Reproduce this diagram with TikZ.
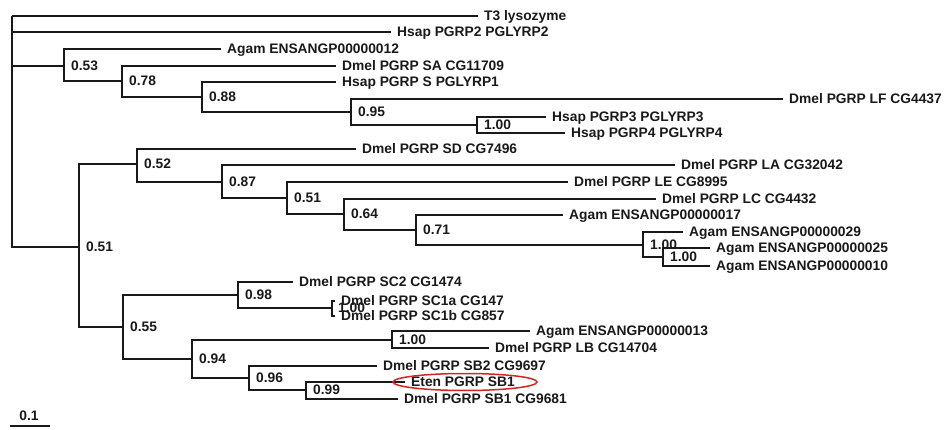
\documentclass[tikz,border=0pt]{standalone}
\usepackage{fontspec}
\setmainfont{Liberation Sans}
\usetikzlibrary{shapes.geometric}
\definecolor{hl}{RGB}{215,35,35}
\definecolor{ink}{RGB}{25,25,25}
\begin{document}
\begin{tikzpicture}[x=1pt,y=-1pt,
  br/.style={draw=ink,line width=1.8pt},
  leaf/.style={anchor=west,inner xsep=6pt,inner ysep=0pt,text height=9.9pt,text depth=0pt,
    font=\fontsize{13.8}{16}\selectfont\bfseries,text=ink},
  bs/.style={anchor=west,inner xsep=0pt,inner ysep=0pt,text height=9.9pt,text depth=0pt,xshift=7pt,
    font=\fontsize{13.8}{16}\selectfont\bfseries,text=ink}]
\useasboundingbox (0,0) rectangle (948,430);
% internal nodes
\coordinate (R) at (12,16);
\coordinate (n053) at (64,66);
\coordinate (n078) at (122,81);
\coordinate (n088) at (202,97);
\coordinate (n095) at (351,112);
\coordinate (n100a) at (477,125);
\coordinate (n051) at (79,247);
\coordinate (n052) at (137,164);
\coordinate (n087) at (222,182);
\coordinate (n051b) at (287,198);
\coordinate (n064) at (344,214);
\coordinate (n071) at (416,230);
\coordinate (n100b) at (643,245);
\coordinate (n100c) at (663,257);
\coordinate (n055) at (123,327);
\coordinate (n098) at (238,295);
\coordinate (nSC1) at (332,308);
\coordinate (n094) at (192,359);
\coordinate (n100d) at (392,340);
\coordinate (n096) at (249,378);
\coordinate (n099) at (306,390);
% leaves
\node[leaf] (t3) at (478,16) {T3 lysozyme};
\node[leaf] (hsap2) at (391,32) {Hsap PGRP2 PGLYRP2};
\node[leaf] (agam12) at (221,49) {Agam ENSANGP00000012};
\node[leaf] (sa) at (336,66) {Dmel PGRP SA CG11709};
\node[leaf] (hsaps) at (336,82) {Hsap PGRP S PGLYRP1};
\node[leaf] (lf) at (783,99) {Dmel PGRP LF CG4437};
\node[leaf] (hsap3) at (546,117) {Hsap PGRP3 PGLYRP3};
\node[leaf] (hsap4) at (565,133) {Hsap PGRP4 PGLYRP4};
\node[leaf] (sd) at (356,149) {Dmel PGRP SD CG7496};
\node[leaf] (la) at (675,165) {Dmel PGRP LA CG32042};
\node[leaf] (le) at (568,182) {Dmel PGRP LE CG8995};
\node[leaf] (lc) at (656,199) {Dmel PGRP LC CG4432};
\node[leaf] (agam17) at (563,215) {Agam ENSANGP00000017};
\node[leaf] (agam29) at (683,232) {Agam ENSANGP00000029};
\node[leaf] (agam25) at (710,248) {Agam ENSANGP00000025};
\node[leaf] (agam10) at (710,266) {Agam ENSANGP00000010};
\node[leaf] (sc2) at (293,282) {Dmel PGRP SC2 CG1474};
\node[leaf] (sc1a) at (335,301) {Dmel PGRP SC1a CG147};
\node[leaf] (sc1b) at (335,316) {Dmel PGRP SC1b CG857};
\node[leaf] (agam13) at (530,331) {Agam ENSANGP00000013};
\node[leaf] (lb) at (489,348) {Dmel PGRP LB CG14704};
\node[leaf] (sb2) at (377,366) {Dmel PGRP SB2 CG9697};
\node[leaf] (eten) at (405,382) {Eten PGRP SB1};
\node[leaf] (sb1) at (398,399) {Dmel PGRP SB1 CG9681};
% branches
\path[br] (R) |- (t3.west) (R) |- (hsap2.west) (R) |- (n053) (R) |- (n051);
\path[br] (n053) |- (agam12.west) (n053) |- (n078);
\path[br] (n078) |- (sa.west) (n078) |- (n088);
\path[br] (n088) |- (hsaps.west) (n088) |- (n095);
\path[br] (n095) |- (lf.west) (n095) |- (n100a);
\path[br] (n100a) |- (hsap3.west) (n100a) |- (hsap4.west);
\path[br] (n051) |- (n052) (n051) |- (n055);
\path[br] (n052) |- (sd.west) (n052) |- (n087);
\path[br] (n087) |- (la.west) (n087) |- (n051b);
\path[br] (n051b) |- (le.west) (n051b) |- (n064);
\path[br] (n064) |- (lc.west) (n064) |- (n071);
\path[br] (n071) |- (agam17.west) (n071) |- (n100b);
\path[br] (n100b) |- (agam29.west) (n100b) |- (n100c);
\path[br] (n100c) |- (agam25.west) (n100c) |- (agam10.west);
\path[br] (n055) |- (n098) (n055) |- (n094);
\path[br] (n098) |- (sc2.west) (n098) |- (nSC1);
\path[br] (nSC1) |- (sc1a.west) (nSC1) |- (sc1b.west);
\path[br] (n094) |- (n100d) (n094) |- (n096);
\path[br] (n100d) |- (agam13.west) (n100d) |- (lb.west);
\path[br] (n096) |- (sb2.west) (n096) |- (n099);
\path[br] (n099) |- (eten.west) (n099) |- (sb1.west);
% bootstrap values
\node[bs] (b053) at (n053) {0.53};
\node[bs] (b078) at (n078) {0.78};
\node[bs] (b088) at (n088) {0.88};
\node[bs] (b095) at (n095) {0.95};
\node[bs] (b100a) at (n100a) {1.00};
\node[bs] (b051) at (n051) {0.51};
\node[bs] (b052) at (n052) {0.52};
\node[bs] (b087) at (n087) {0.87};
\node[bs] (b051b) at (n051b) {0.51};
\node[bs] (b064) at (n064) {0.64};
\node[bs] (b071) at (n071) {0.71};
\node[bs] (b100b) at (n100b) {1.00};
\node[bs] (b100c) at (n100c) {1.00};
\node[bs] (b055) at (n055) {0.55};
\node[bs] (b098) at (n098) {0.98};
\node[bs,xshift=-1pt] (bSC1) at (nSC1) {1.00};
\node[bs] (b094) at (n094) {0.94};
\node[bs] (b100d) at (n100d) {1.00};
\node[bs] (b096) at (n096) {0.96};
\node[bs] (b099) at (n099) {0.99};
% highlight
\node[ellipse,draw=hl,line width=1.5pt,minimum width=144pt,minimum height=17pt,inner sep=0pt] (hl) at (465,382) {};
% scale bar
\coordinate (sbA) at (10,426);
\coordinate (sbB) at (50,426);
\path[br] (sbA) -- (sbB);
\node[leaf,inner xsep=0pt,anchor=center] (sbt) at (29,416) {0.1};
\end{tikzpicture}
\end{document}
